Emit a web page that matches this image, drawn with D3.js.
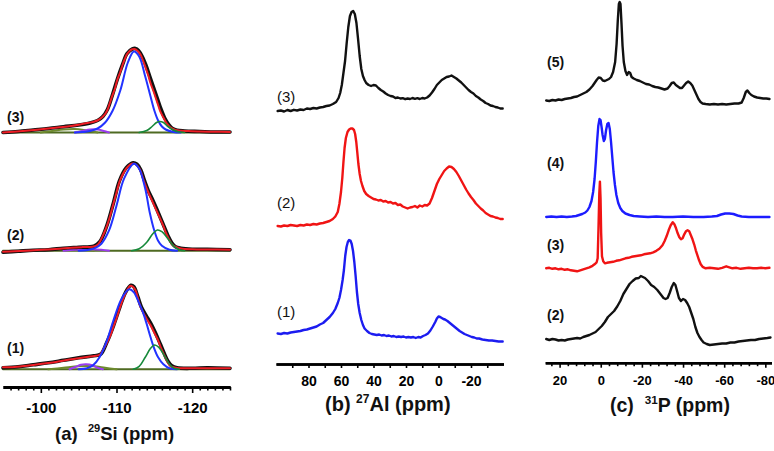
<!DOCTYPE html>
<html><head><meta charset="utf-8">
<script src="https://cdn.jsdelivr.net/npm/d3@7"></script>
<style>body{margin:0;background:#fff}svg{display:block}</style>
</head><body>
<svg id="c" width="774" height="451"></svg>
<script>
// ---------------- DATA ----------------
// Panel (a) 29Si : [ppm, intensity]
const siRed3 = [[-95,0],[-96.5,0.8],[-98,1.7],[-99.5,2.8],[-101,4],[-102.5,5.2],[-104,6.5],[-105.2,8],[-106.2,9.5],[-107,10.8],[-107.6,12.5],[-108.1,15.2],[-108.5,18.5],[-108.8,22.5],[-109.1,29],[-109.4,35.8],[-109.8,44],[-110.1,52.5],[-110.5,60.5],[-110.8,67.5],[-111.1,73.5],[-111.4,78.5],[-111.8,82],[-112.1,83.2],[-112.4,83.5],[-112.8,81.5],[-113.2,77.5],[-113.5,72],[-113.8,65.8],[-114.2,57],[-114.5,49.2],[-114.9,41],[-115.2,34.2],[-115.5,27.5],[-115.8,20.8],[-116.2,15],[-116.5,10.8],[-116.8,7.5],[-117.1,5.2],[-117.5,3.5],[-117.8,2.5],[-118.5,1.8],[-119.3,1.5],[-121,1],[-123,0.8],[-125,0.5]];
const siExp3 = [[-95,0],[-97,1],[-99,2.5],[-101,4],[-103,5.8],[-105,7.5],[-106.5,9.5],[-107.5,12],[-108.2,16],[-108.8,23],[-109.4,36],[-110.1,53],[-110.8,68],[-111.4,79],[-112.1,83.5],[-112.5,84],[-112.9,82],[-113.4,76],[-113.9,67],[-114.4,56],[-114.9,45],[-115.4,34],[-115.9,23],[-116.4,14],[-116.9,8],[-117.4,4],[-118,2.2],[-119,1.5],[-121,1],[-123,0.5],[-125,0.5]];
const siBlue3 = [[-104.5,0],[-105.5,0.5],[-106.5,1.5],[-107.5,4],[-108.5,10],[-109.5,22],[-110.5,42],[-111.5,70],[-112.3,81],[-113,76],[-113.8,56],[-114.5,36],[-115,22],[-115.5,12],[-116,6],[-116.5,3],[-117.5,0.5],[-118.5,0]];
const siGreen3 = [[-113,0],[-114,2],[-114.7,6],[-115.3,10],[-115.7,11],[-116.2,10],[-116.8,6],[-117.5,2.5],[-118.3,0.5],[-119,0]];
const siPurple3 = [[-104.5,0],[-105.5,1.5],[-106.5,3],[-107.5,3],[-108.3,1.5],[-109,0]];
const siOlive3 = [[-100,0],[-101.5,1.5],[-103,3],[-104.5,3.5],[-106,2],[-107.5,0]];

const siRed2 = [[-95,-1],[-96.5,-0.5],[-98,0],[-99.5,0.6],[-101,1.2],[-102.5,2],[-104,2.9],[-105.5,3.6],[-107,4.2],[-107.5,6],[-107.8,9],[-108.2,15],[-108.7,24],[-109.2,36],[-109.6,47.3],[-110,58],[-110.4,69],[-110.8,76],[-111.3,82.3],[-111.8,86],[-112.2,87.3],[-112.6,86],[-113.1,81.3],[-113.6,70],[-114,62],[-114.4,55],[-114.7,50],[-115.2,41.5],[-115.7,33.3],[-116.2,24.5],[-116.6,16.7],[-117,10.5],[-117.4,5.7],[-118,3.3],[-118.5,2.3],[-120,1.5],[-122,1.2],[-125,1]];
const siExp2 = [[-95,-1.5],[-97,-0.5],[-99,0.5],[-101,1],[-103,2.5],[-105,3.5],[-107,4.5],[-107.8,9],[-108.7,24.5],[-109.6,48],[-110.4,70],[-111.3,83],[-112.2,88],[-112.7,86.5],[-113.2,81],[-113.7,70],[-114.2,60],[-114.8,50.5],[-115.3,42],[-115.8,33],[-116.3,24],[-116.8,15],[-117.3,8],[-117.8,4],[-118.5,2.5],[-120,1.5],[-122,1.5],[-125,1]];
const siBlue2 = [[-105,0],[-106,0.5],[-107,2],[-108,7],[-109,20],[-110,45],[-111,72],[-112.3,87],[-113,82],[-113.8,62],[-114.4,38],[-115,20],[-115.5,10],[-116,5],[-117,1],[-118,0]];
const siGreen2 = [[-112,0],[-113,2],[-114,8.5],[-114.8,17],[-115.4,20.7],[-116,19],[-116.8,12],[-117.5,5],[-118.3,1],[-119,0]];
const siPurple2 = [[-103,0],[-104.5,1],[-106.5,1.5],[-108,1],[-109,0]];
const siOlive2 = [[-99,0],[-101,1],[-103,2],[-105,1.5],[-107,0]];

const siRed1 = [[-95,2],[-96,2],[-97.5,3],[-99,4.3],[-100.5,5.8],[-102,7.3],[-103.4,9.3],[-105,11],[-106.5,12.7],[-107.3,13.5],[-107.8,14.5],[-108.2,19],[-108.7,26],[-109.2,34],[-109.6,42.7],[-110,51],[-110.5,62.7],[-110.9,71],[-111.2,76],[-111.5,80.5],[-111.8,83.3],[-112.1,83],[-112.5,79.3],[-112.8,72],[-113.1,64],[-113.5,57],[-113.8,53],[-114.1,49],[-114.5,44],[-115.1,35],[-115.5,29],[-115.8,23],[-116.2,16],[-116.5,11],[-116.8,6.5],[-117.1,3.3],[-117.6,2],[-118,1.3],[-119,1],[-121,1],[-123,1],[-125,1]];
const siExp1 = [[-95,1.5],[-97,2.5],[-99,4.5],[-101,6.5],[-103,9],[-105,11.5],[-107,13.5],[-107.9,15],[-108.7,26.5],[-109.6,43.5],[-110.5,63.5],[-111.2,77],[-111.9,84],[-112.3,82.5],[-112.8,73],[-113.3,62],[-113.9,54],[-114.6,45],[-115.2,35.5],[-115.8,25],[-116.3,16],[-116.8,8],[-117.3,3.5],[-118,1.5],[-120,1],[-122,1.5],[-125,1]];
const siBlue1 = [[-105,0],[-106.1,1],[-106.9,4],[-107.8,12.6],[-108.7,28],[-109.6,49],[-110.5,68],[-111.2,77],[-111.7,80],[-112.3,77],[-113,66],[-113.5,57],[-114,45],[-114.5,32],[-114.9,22.6],[-115.5,12],[-116.2,5],[-117,1],[-118,0]];
const siGreen1 = [[-112.2,0],[-113,3],[-113.8,12],[-114.5,21],[-115.05,24.3],[-115.6,22],[-116.3,14],[-117,5],[-117.6,1],[-118.3,0]];
const siPurple1 = [[-103.8,0],[-104.5,2],[-105.3,4.5],[-106,5],[-106.8,4],[-107.5,1.5],[-108.2,0]];
const siOlive1 = [[-101,0],[-103,1.5],[-105,3],[-107,3],[-108.5,1.5],[-110,0]];

// Panel (b) 27Al : [ppm, intensity]
const al3 = [[99,0],[97,0.5],[95,-0.5],[93,1],[91,0],[89,1.2],[87,0.5],[85,1.5],[83,1],[81,2.5],[79,2],[77,3],[75,2.5],[73,3.5],[71,4],[69,5],[67,5.5],[65,7],[63,9],[61.5,13],[60.5,18],[59.5,26],[58.5,38],[57.5,50],[56.5,68],[55.5,84],[54.5,95],[53.5,99],[52.5,100],[51.5,97],[50.5,88],[49.5,72],[48.5,55],[47.5,42],[46.5,35],[45.5,31],[44.5,28],[43,26],[41.5,25],[40,26],[38.5,25.5],[37,23],[35.5,21],[34,19.5],[32.5,17.5],[31,16],[29.5,15],[28,14.5],[26.5,13],[25,13.5],[23.5,12.5],[22,12.8],[20.5,11.8],[19,12.5],[17.5,12],[16,13],[14.5,12.2],[13,12.8],[11.5,12],[10,13],[8.5,12.5],[7,13.5],[5.5,15.5],[4,18.5],[2.5,22],[1,26],[-0.5,28.5],[-2,31],[-3.5,32.5],[-5,34],[-6.5,34.5],[-8,35.5],[-9.5,34],[-11,32.5],[-12.5,30.5],[-14,28.5],[-15.5,26],[-17,23.5],[-18.5,21],[-20,19],[-21.5,17.5],[-23,15],[-24.5,13.5],[-26,11.5],[-27.5,10],[-29,8],[-30.5,7],[-32,5.5],[-33.5,5],[-35,4],[-36.5,3.5],[-38,2.5],[-39.5,2.5]];
const al2 = [[99,0],[97,-0.5],[95,0.5],[93,0],[91,1],[89,0.5],[87,0],[85,1],[83,0.5],[81,1.5],[79,1],[77,2],[75,1.5],[73,2.5],[71,3],[69,4],[67,5],[65,7],[63.5,9.5],[62,14],[61,22],[60,34],[59.2,48],[58.5,64],[57.8,78],[57,88],[56,94],[55,96.5],[54,97.5],[53,97.5],[52,96],[51.3,92],[50.6,84],[50,74],[49.3,62],[48.5,52],[47.7,45],[46.8,40],[45.7,35],[44.5,32],[43,30],[41.5,28.5],[40,27],[38.5,26.5],[37,25.5],[35.5,26],[34,24.5],[32.5,25],[31,23.5],[29.5,24],[28,22.5],[26.5,23],[25,21],[23.5,21.5],[22,19.5],[20.5,18.5],[19,17.5],[17.5,18.5],[16,19],[14.5,20],[13,18.5],[11.5,20.5],[10,19.5],[8.5,21],[7,20.5],[5.5,22.5],[4,28],[2.5,35],[1,42],[-0.5,47],[-2,51],[-3.5,55],[-5,57.5],[-6.5,59.5],[-8,59],[-9.5,57],[-11,54],[-12.5,50],[-14,45.5],[-15.5,41],[-17,36.5],[-18.5,32.5],[-20,29],[-21.5,26],[-23,22.5],[-24.5,20],[-26,17.5],[-27.5,15.5],[-29,13],[-30.5,11.5],[-32,10],[-33.5,9.5],[-35,8.5],[-36.5,8],[-38,7],[-39.5,7]];
const al1 = [[99,6.5],[97,6],[95,7],[93,6.5],[91,7.5],[89,8],[87,8.5],[85,9],[83,10],[81,10.5],[79,11.5],[77,12.5],[75,13.5],[73,15.5],[71,17],[69,20],[67,23],[65,27],[63.5,31],[62,37],[61,42],[60,50],[59,60],[58.2,70],[57.4,84],[56.6,93],[55.8,98],[55,100],[54.2,99.5],[53.4,96],[52.6,89],[51.8,78],[51,64],[50.2,48],[49.4,36],[48.5,27],[47.5,20],[46.5,15],[45.5,11.5],[44,9],[42.5,7],[41,6],[39.5,5.5],[38,5],[36.5,5.5],[35,4.5],[33.5,5],[32,4],[30.5,4.5],[29,3.5],[27.5,4],[26,3],[24.5,3.5],[23,3],[21.5,3.5],[20,2.5],[18.5,3],[17,2.5],[15.5,3],[14,2],[12.5,3],[11,2.5],[9.5,4],[8,5],[6.5,6.5],[5,9.5],[3.5,13.5],[2,18],[1,21.5],[0,23.5],[-1,23],[-2,22],[-3,21],[-4,20.5],[-5.5,19],[-7,17],[-8.5,15],[-10,13],[-11.5,11],[-13,9],[-14.5,7.5],[-16,6],[-17.5,5],[-19,4],[-20.5,3],[-22,2.5],[-23.5,1.5],[-25,1.5],[-27,0.5],[-29,0],[-31,-0.5],[-33,-0.5],[-35,-1],[-37,-1.5],[-39.5,-1.5]];

// Panel (c) 31P : [ppm, intensity]
const p5 = [[26.5,3.5],[25,3],[23.5,4],[22,3.5],[20.5,4.5],[19,4],[17.5,5],[16,5.5],[14.5,6],[13,7],[11.5,7.5],[10,9],[8.5,10.5],[7,12],[5.5,14.5],[4,18],[3,21],[2,24],[1,26.5],[0,26],[-1,23.5],[-2,23],[-3,24],[-4,25],[-5,27],[-6,32],[-7,42],[-7.7,60],[-8.3,84],[-8.8,100],[-9.2,102],[-9.6,100],[-10.1,80],[-10.6,58],[-11.2,42],[-12,33],[-12.8,29],[-13.6,32],[-14.3,31],[-15,27],[-16,25.5],[-17.5,24],[-19,23],[-20.5,21.5],[-22,20],[-23.5,19.5],[-25,18],[-26.5,17],[-28,16.5],[-29.5,15.5],[-31,14.5],[-32.5,15.5],[-33.5,18],[-34.5,21],[-35.5,21.5],[-36.5,19],[-37.5,17.5],[-38.5,16],[-39.5,16],[-40.5,18.5],[-41.5,21],[-42.5,22.5],[-43.5,21],[-44.5,18.5],[-45.5,14],[-46.5,9.5],[-47.5,5],[-48.5,2],[-49.5,0.5],[-51,0],[-53,-0.5],[-55,0],[-57,-0.5],[-59,0],[-61,-0.5],[-63,0],[-65,0.5],[-67,0.5],[-68.5,1.5],[-69.5,6],[-70.5,12],[-71.3,13.5],[-72.2,11],[-73.2,9],[-74.5,7.5],[-76,6.5],[-77.5,6],[-79,5.5],[-80.5,5.5],[-82,5]];
const p4 = [[26.5,0],[24,0.5],[21.5,0],[19,0.5],[16.5,0],[14,0.5],[12,1],[10.5,2],[9,3],[7.5,4.5],[6.5,6.5],[5.5,10],[4.5,16],[3.7,25],[3,38],[2.4,55],[1.8,75],[1.2,91],[0.6,98],[0.1,97],[-0.4,90],[-0.9,82],[-1.5,76],[-2,78],[-2.6,87],[-3.2,93],[-3.8,94],[-4.4,88],[-5,75],[-5.6,60],[-6.2,45],[-6.9,32],[-7.6,22],[-8.5,14],[-9.5,9],[-10.5,6],[-12,3.5],[-14,2],[-16,1],[-19,0.5],[-23,0],[-27,0.5],[-31,0],[-35,0],[-40,0.5],[-45,0],[-50,0],[-54,0.5],[-56.5,1],[-58.5,2.5],[-60.5,3.5],[-62.5,3.5],[-64.5,3],[-66.5,1.5],[-68.5,0.5],[-72,0],[-77,0],[-82,0]];
const p3 = [[26.5,0],[25,0.5],[23.5,-0.5],[22,0],[20.5,-1],[19,-0.5],[17.5,-1.5],[16,-1],[14.5,-2],[13,-2.5],[11.5,-3],[10,-2],[8.5,-1],[7,0],[5.5,1],[4,2.5],[3,4],[2,6],[1.5,10],[1.1,40],[0.7,75],[0.4,86.7],[0.1,70],[-0.2,35],[-0.6,12],[-1.2,7],[-2,5],[-3,5.5],[-4.5,6],[-6,6.5],[-7.5,7.5],[-9,8],[-10.5,9],[-12,10],[-13.5,10.5],[-15,11.5],[-16.5,12],[-18,12.5],[-19.5,13],[-21,14],[-22.5,14.5],[-24,15],[-25.5,16],[-27,17.5],[-28.5,19.5],[-30,23],[-31,27],[-32,32],[-33,38],[-34,43],[-35,46],[-35.8,44],[-36.6,40],[-37.4,35],[-38.2,31],[-39,29],[-39.8,30],[-40.6,34],[-41.4,37],[-42.2,38],[-43,37],[-43.8,33],[-44.6,29],[-45.4,24],[-46.2,18],[-47,13],[-47.8,8],[-48.6,4],[-49.5,1.5],[-51,0],[-53,0.5],[-55,0],[-57,-0.5],[-59,0.5],[-61,2],[-62.5,1],[-64,0],[-66,0.5],[-68,-0.5],[-70,0],[-72,0.5],[-74,0],[-76,0],[-78,0.5],[-80,0],[-82,0.5]];
const p2 = [[26.5,6],[25,5],[23.5,6],[22,5.5],[20.5,4.5],[19,5],[17.5,4.5],[16,5.5],[14.5,6],[13,6.5],[11.5,7],[10,6.5],[8.5,8],[7,9],[5.5,10],[4,11.5],[2.5,13],[1,16],[-0.5,19],[-2,23],[-3.5,28],[-5,31],[-6.5,34],[-8,38.5],[-9.5,44],[-11,51],[-12.5,56],[-14,61],[-15.5,64],[-17,66.5],[-18.5,67],[-19.5,69],[-20.5,68],[-21.5,67],[-23,64],[-24.5,60],[-26,58],[-27.5,55],[-29,51],[-30.5,47],[-31.5,46],[-32.5,47],[-33.5,52],[-34.5,58],[-35.5,62],[-36.3,60],[-37.1,54],[-38,47],[-39,44],[-40,46],[-41,45],[-42,42],[-43,38],[-44,32],[-45,26],[-46,18],[-47,12],[-48,8],[-49,5],[-50,2.5],[-51.5,1],[-53,0],[-55,0.5],[-57,1],[-59,1.5],[-61,1.5],[-63,2.5],[-65,2.5],[-67,3.5],[-69,4],[-71,4.5],[-73,5],[-75,5],[-77,6],[-79,6.5],[-81,7],[-82.5,7.5]];

// Tick values
const siMajor = [-100,-110,-120];
const siMinor = [-96,-97,-98,-99,-101,-102,-103,-104,-105,-106,-107,-108,-109,-111,-112,-113,-114,-115,-116,-117,-118,-119,-121,-122,-123,-124,-125];
const alMajor = [80,60,40,20,0,-20];
const alMinor = [90,70,50,30,10,-10,-30];
const pMajor = [20,0,-20,-40,-60,-80];
const pMinor = [24,16,12,8,4,-4,-8,-12,-16,-24,-28,-32,-36,-44,-48,-52,-56,-64,-68,-72,-76];

// ---------------- DRAWING ----------------
const svg = d3.select('#c');
const yI = d3.scaleLinear().domain([0,100]).range([0,100]);
const FONT = "'Liberation Sans', Arial, Helvetica, sans-serif";

function drawSpec(x, baseY, data, color, width, curve) {
  const line = d3.line().x(d => x(d[0])).y(d => baseY - yI(d[1])).curve(curve || d3.curveLinear);
  svg.append('path').attr('d', line(data)).attr('fill','none')
    .attr('stroke', color).attr('stroke-width', width)
    .attr('stroke-linejoin','round').attr('stroke-linecap','round');
}

function drawAxis(x, y, major, minor, majLen, minLen, fs, pad, lw) {
  const g = svg.append('g').attr('transform', `translate(0,${y})`);
  g.call(d3.axisBottom(x).tickValues(minor).tickSize(minLen).tickSizeOuter(0).tickFormat(''));
  g.selectAll('.tick text').remove();
  const g2 = svg.append('g').attr('transform', `translate(0,${y})`);
  g2.call(d3.axisBottom(x).tickValues(major).tickSize(majLen).tickSizeOuter(0).tickPadding(pad));
  [g, g2].forEach(gg => {
    gg.select('.domain').attr('stroke', '#000').attr('stroke-width', lw);
    gg.selectAll('.tick line').attr('stroke', '#000').attr('stroke-width', 1.6);
  });
  g2.selectAll('.tick text').attr('fill', '#000').attr('font-family', FONT)
    .attr('font-weight', 'bold').attr('font-size', fs)
    .text(d => d < 0 ? '-' + Math.abs(d) : d);
}

function label(x, y, t, fs, weight) {
  svg.append('text').attr('x', x).attr('y', y).text(t)
    .attr('font-family', FONT).attr('font-size', fs).attr('font-weight', weight).attr('fill', '#111');
}

function title(x, y, pre, sup, post, fs) {
  const t = svg.append('text').attr('x', x).attr('y', y)
    .attr('font-family', FONT).attr('font-size', fs).attr('font-weight', 'bold').attr('fill', '#111');
  t.append('tspan').text(pre);
  t.append('tspan').attr('font-size', fs * 0.6).attr('dy', -fs * 0.42).text(sup);
  t.append('tspan').attr('dy', fs * 0.42).text(post);
}

// ---- Panel (a)
const xA = d3.scaleLinear().domain([-95,-125]).range([3,230]);
const smooth = d3.curveCatmullRom.alpha(0.5);
const siSets = [
  {base:132.5, exp:siExp3, red:siRed3, blue:siBlue3, green:siGreen3, purple:siPurple3, olive:siOlive3, lab:'(3)', ly:122},
  {base:250.7, exp:siExp2, red:siRed2, blue:siBlue2, green:siGreen2, purple:siPurple2, olive:siOlive2, lab:'(2)', ly:240},
  {base:369.3, exp:siExp1, red:siRed1, blue:siBlue1, green:siGreen1, purple:siPurple1, olive:siOlive1, lab:'(1)', ly:353}
];
siSets.forEach(s => {
  drawSpec(xA, s.base, [[-95,0],[-125,0]], '#4f6a22', 2);
  drawSpec(xA, s.base, s.olive, '#6d8a2e', 2, smooth);
  drawSpec(xA, s.base, s.purple, '#9b3cf0', 2, smooth);
  drawSpec(xA, s.base, s.exp, '#111', 3.6, smooth);
  drawSpec(xA, s.base, s.red, '#ee1c24', 2, smooth);
  drawSpec(xA, s.base, s.blue, '#2233ff', 2, smooth);
  drawSpec(xA, s.base, s.green, '#16893a', 1.6, smooth);
  label(7, s.ly, s.lab, 14, 'bold');
});
drawAxis(xA, 387, siMajor, siMinor, 6, 3.5, 15, 9, 3);
title(55, 440, '(a)\u00a0\u00a0', '29', 'Si (ppm)', 18.5);

// ---- Panel (b)
const xB = d3.scaleLinear().domain([100,-40]).range([276,503.5]);
drawSpec(xB, 111, al3, '#111', 2.4);
drawSpec(xB, 226, al2, '#f01414', 2.4);
drawSpec(xB, 340, al1, '#1c1cf0', 2.4);
label(277, 102, '(3)', 15, 'normal');
label(277, 208, '(2)', 15, 'normal');
label(277, 317, '(1)', 15, 'normal');
drawAxis(xB, 364, alMajor, alMinor, 4, 4, 14, 8.5, 2.5);
title(325, 411, '(b)\u00a0', '27', 'Al (ppm)', 20);

// ---- Panel (c)
const xC = d3.scaleLinear().domain([27,-83]).range([545.2,771.5]);
drawSpec(xC, 104, p5, '#111', 2.4);
drawSpec(xC, 217, p4, '#1c1cff', 2.4);
drawSpec(xC, 268.3, p3, '#f01414', 2.4);
drawSpec(xC, 345, p2, '#111', 2.4);
label(547, 67, '(5)', 14, 'bold');
label(547, 168, '(4)', 14, 'bold');
label(547, 250, '(3)', 14, 'bold');
label(547, 320, '(2)', 14, 'bold');
drawAxis(xC, 362.7, pMajor, pMinor, 5, 3.5, 13, 8.5, 2.5);
title(610, 412, '(c)\u00a0\u00a0', '31', 'P (ppm)', 19.5);
</script>
</body></html>
